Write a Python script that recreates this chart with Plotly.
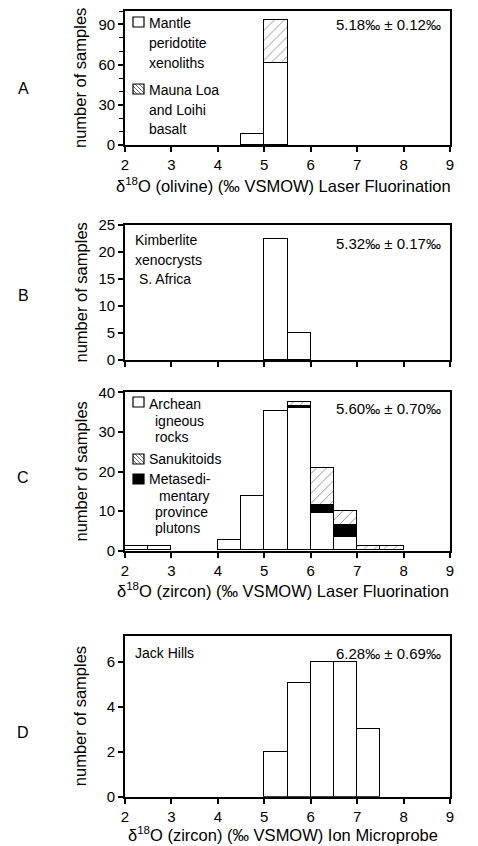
import plotly.graph_objects as go

# ---------------- data ----------------
# Panel A: olivine, laser fluorination
a_x_mantle = [4.75, 5.25]
a_mantle = [8, 61]
a_x_mauna = [5.25]
a_mauna = [32]

# Panel B: kimberlite xenocrysts
b_x = [5.25, 5.75]
b_kimb = [22.5, 5]

# Panel C: zircon, laser fluorination
c_x_arch = [2.25, 2.75, 4.25, 4.75, 5.25, 5.75, 6.25, 6.75]
c_arch = [1, 1, 2.6, 13.8, 35.2, 36, 9.4, 3.4]
c_x_meta = [5.75, 6.25, 6.75]
c_meta = [0.35, 2.1, 3.1]
c_x_sanu = [5.75, 6.25, 6.75, 7.25, 7.75]
c_sanu = [1.2, 9.3, 3.4, 1, 1]

# Panel D: Jack Hills, ion microprobe
d_x = [5.25, 5.75, 6.25, 6.75, 7.25]
d_jh = [2, 5.05, 6, 6, 3]

x_ticks = [2, 3, 4, 5, 6, 7, 8, 9]
stats = ["5.18‰ ± 0.12‰", "5.32‰ ± 0.17‰", "5.60‰ ± 0.70‰", "6.28‰ ± 0.69‰"]

W, H = 478, 846
FONT = "Liberation Sans"


def px(x):
    return x / W


def py(y):
    return 1 - y / H


# panel pixel frames: (top, bottom)
frames = [(11, 145), (225, 360), (392.3, 550.7), (635.7, 796.7)]
x_left, x_right = 125, 450
yranges = [[0, 100], [0, 25], [0, 40], [0, 7.15]]
ytickvals = [[0, 30, 60, 90], [0, 5, 10, 15, 20, 25], [0, 10, 20, 30, 40], [0, 2, 4, 6]]

fig = go.Figure()

line = dict(color="black", width=1.2)
white = dict(color="white", line=line)
hatch = dict(color="white", line=line,
             pattern=dict(shape="/", size=7, solidity=0.12, fgcolor="black", bgcolor="white"))
black = dict(color="black", line=line)

fig.add_trace(go.Bar(x=a_x_mantle, y=a_mantle, width=0.5, marker=white, xaxis="x", yaxis="y"))
fig.add_trace(go.Bar(x=a_x_mauna, y=a_mauna, width=0.5, marker=hatch, xaxis="x", yaxis="y"))
fig.add_trace(go.Bar(x=b_x, y=b_kimb, width=0.5, marker=white, xaxis="x2", yaxis="y2"))
fig.add_trace(go.Bar(x=c_x_arch, y=c_arch, width=0.5, marker=white, xaxis="x3", yaxis="y3"))
fig.add_trace(go.Bar(x=c_x_meta, y=c_meta, width=0.5, marker=black, xaxis="x3", yaxis="y3"))
fig.add_trace(go.Bar(x=c_x_sanu, y=c_sanu, width=0.5, marker=hatch, xaxis="x3", yaxis="y3"))
fig.add_trace(go.Bar(x=d_x, y=d_jh, width=0.5, marker=white, xaxis="x4", yaxis="y4"))

layout = dict(
    width=W, height=H, margin=dict(l=0, r=0, t=0, b=0, pad=0, autoexpand=False),
    paper_bgcolor="white", plot_bgcolor="white",
    barmode="stack", bargap=0, showlegend=False,
    font=dict(family=FONT, size=14, color="black"),
)

for i in range(4):
    top, bot = frames[i]
    sx = "" if i == 0 else str(i + 1)
    xa = dict(
        domain=[px(x_left), px(x_right)], range=[2, 9], anchor="y" + sx,
        tickvals=x_ticks, ticks="outside", ticklen=5, tickwidth=1.5, tickcolor="black",
        showline=True, linecolor="black", linewidth=1.8, mirror=True,
        showgrid=False, zeroline=False, showticklabels=(i != 1), automargin=False,
        tickfont=dict(family=FONT, size=15),
    )
    ya = dict(
        domain=[py(bot), py(top)], range=yranges[i], anchor="x" + sx,
        tickvals=ytickvals[i], ticks="outside", ticklen=5, tickwidth=1.5, tickcolor="black",
        showline=True, linecolor="black", linewidth=1.8, mirror=True,
        showgrid=False, zeroline=False, automargin=False,
        tickfont=dict(family=FONT, size=15),
    )
    if i == 0:
        ya["minor"] = dict(dtick=10, ticks="outside", ticklen=4, tickwidth=1.2, tickcolor="black", showgrid=False)
    layout["xaxis" + sx] = xa
    layout["yaxis" + sx] = ya

fig.update_layout(**layout)

ann = []


def text(x, y, s, size=14, xanchor="left", angle=0):
    ann.append(dict(x=px(x), y=py(y), xref="paper", yref="paper", text=s, showarrow=False,
                    xanchor=xanchor, yanchor="middle", textangle=angle,
                    font=dict(family=FONT, size=size, color="black")))


# panel letters
for lab, yy in zip(["A", "B", "C", "D"], [88, 295, 477, 732]):
    text(23, yy, lab, size=16, xanchor="center")

# y titles
for top, bot in frames:
    text(80, (top + bot) / 2, "number of samples", size=16.5, xanchor="center", angle=-90)

# x titles
text(283, 185, "δ<sup>18</sup>O (olivine) (‰ VSMOW) Laser Fluorination", size=16.5, xanchor="center")
text(283, 590, "δ<sup>18</sup>O (zircon) (‰ VSMOW) Laser Fluorination", size=16.5, xanchor="center")
text(283, 834, "δ<sup>18</sup>O (zircon) (‰ VSMOW) Ion Microprobe", size=16.5, xanchor="center")

# stats
for s, yy in zip(stats, [25, 244, 408, 653]):
    text(443, yy, s, size=15, xanchor="right")

# legend / labels text
for s, xx, yy in [("Mantle", 147, 23), ("peridotite", 147, 43), ("xenoliths", 147, 63),
                  ("Mauna Loa", 147, 90), ("and Loihi", 147, 110), ("basalt", 147, 129),
                  ("Kimberlite", 133, 240), ("xenocrysts", 133, 260), ("S. Africa", 137, 279),
                  ("Archean", 147, 404), ("igneous", 153, 421), ("rocks", 153, 437),
                  ("Sanukitoids", 147, 459),
                  ("Metasedi-", 147, 479), ("mentary", 157, 496), ("province", 153, 512),
                  ("plutons", 153, 528),
                  ("Jack Hills", 133, 653)]:
    text(xx, yy, s, size=14)

fig.update_layout(annotations=ann)

shapes = []


def box(x0, y0, x1, y1, fill="white"):
    shapes.append(dict(type="rect", xref="paper", yref="paper", x0=px(x0), x1=px(x1),
                       y0=py(y1), y1=py(y0), fillcolor=fill, line=dict(color="black", width=1.2)))


def hatchbox(x0, y0, x1, y1):
    box(x0, y0, x1, y1)
    step = 4
    w, h = x1 - x0, y1 - y0
    k = step
    while k < w + h:
        p1 = (x0 + max(0, k - h), y1 - (k - max(0, k - h)))
        p2 = (x0 + min(k, w), y1 - (k - min(k, w)))
        shapes.append(dict(type="line", xref="paper", yref="paper",
                           x0=px(p1[0]), y0=py(p1[1]), x1=px(p2[0]), y1=py(p2[1]),
                           line=dict(color="black", width=0.6)))
        k += step


box(133, 17, 144, 27)
hatchbox(133, 84, 144, 94)
box(133, 397, 144, 407)
hatchbox(133, 454, 144, 464)
box(133, 474, 144, 484, fill="black")

fig.update_layout(shapes=shapes)

fig.write_html("out.html", config={"displayModeBar": False},
               post_script="document.body.style.margin='0px';")
